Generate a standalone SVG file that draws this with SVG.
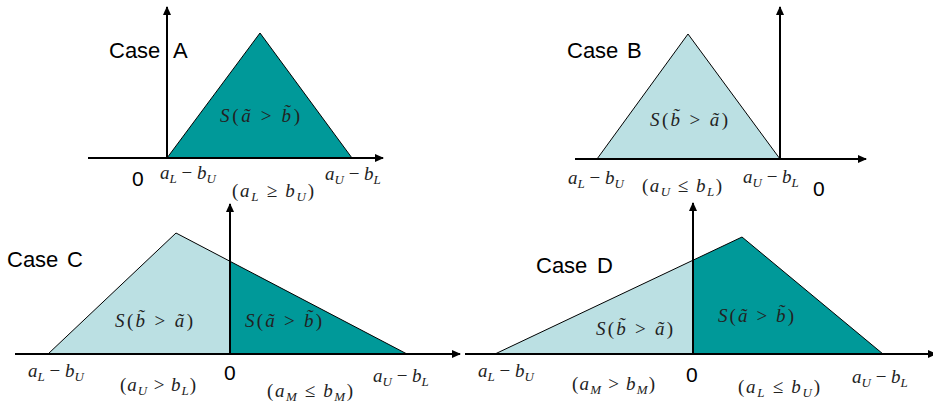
<svg xmlns="http://www.w3.org/2000/svg" width="933" height="410" viewBox="0 0 933 410">
<style>
.ax{stroke:#000;stroke-width:2;fill:none}
.ar{marker-end:url(#arr)}
.tri{stroke:#000;stroke-width:1;stroke-linejoin:miter}
.dk{fill:#009999}
.lt{fill:#BBE0E3}
.case{font-family:"Liberation Sans",Arial,sans-serif;font-size:22px;fill:#000}
.zero{font-family:"Liberation Sans",Arial,sans-serif;font-size:21px;fill:#000}
.m{font-family:"Liberation Serif","DejaVu Serif",serif;font-size:19px;font-style:italic;fill:#222}
.u{font-style:normal}
.s{font-size:13px}
</style>
<defs>
<marker id="arr" markerUnits="userSpaceOnUse" markerWidth="9" markerHeight="8" refX="8" refY="4" orient="auto">
<path d="M0,0 L9,4 L0,8 z" fill="#000"/>
</marker>
</defs>

<g id="caseA">
<polygon class="tri dk" points="167,158 260,33 352,158"/>
<line class="ax ar" x1="88" y1="158" x2="383" y2="158"/>
<line class="ax ar" x1="167" y1="158" x2="167" y2="7"/>
<text class="case" x="109" y="58">Case</text>
<text class="case" x="173" y="58">A</text>
<text class="zero" x="132" y="186">0</text>
<text class="m" x="220" y="122" textLength="80" lengthAdjust="spacing">S<tspan class="u">(</tspan>ã<tspan class="u"> &gt; </tspan>b̃<tspan class="u">)</tspan></text>
<text class="m" x="160" y="179">a<tspan class="s" dy="4">L</tspan><tspan class="u" dy="-4"> − </tspan>b<tspan class="s" dy="4">U</tspan></text>
<text class="m" x="232" y="197" textLength="82" lengthAdjust="spacing"><tspan class="u">(</tspan>a<tspan class="s" dy="4">L</tspan><tspan class="u" dy="-4"> ≥ </tspan>b<tspan class="s" dy="4">U</tspan><tspan class="u" dy="-4">)</tspan></text>
<text class="m" x="325" y="180">a<tspan class="s" dy="4">U</tspan><tspan class="u" dy="-4"> − </tspan>b<tspan class="s" dy="4">L</tspan></text>
</g>

<g id="caseB">
<polygon class="tri lt" points="597,159 688,34 780,159"/>
<line class="ax ar" x1="575" y1="159" x2="866" y2="159"/>
<line class="ax ar" x1="780" y1="159" x2="780" y2="7"/>
<text class="case" x="567" y="58">Case</text>
<text class="case" x="627" y="58">B</text>
<text class="zero" x="813" y="196">0</text>
<text class="m" x="650" y="126" textLength="78" lengthAdjust="spacing">S<tspan class="u">(</tspan>b̃<tspan class="u"> &gt; </tspan>ã<tspan class="u">)</tspan></text>
<text class="m" x="568" y="184">a<tspan class="s" dy="4">L</tspan><tspan class="u" dy="-4"> − </tspan>b<tspan class="s" dy="4">U</tspan></text>
<text class="m" x="642" y="192" textLength="80" lengthAdjust="spacing"><tspan class="u">(</tspan>a<tspan class="s" dy="4">U</tspan><tspan class="u" dy="-4"> ≤ </tspan>b<tspan class="s" dy="4">L</tspan><tspan class="u" dy="-4">)</tspan></text>
<text class="m" x="743" y="183">a<tspan class="s" dy="4">U</tspan><tspan class="u" dy="-4"> − </tspan>b<tspan class="s" dy="4">L</tspan></text>
</g>

<g id="caseC">
<polygon class="lt" points="48,354 176,233 230,261.3 230,354"/>
<polygon class="dk" points="230,261.3 407,354 230,354"/>
<polyline class="tri" fill="none" points="48,354 176,233 407,354"/>
<line class="ax ar" x1="15" y1="354" x2="460" y2="354"/>
<line class="ax ar" x1="230" y1="354" x2="230" y2="204"/>
<text class="case" x="7" y="267">Case</text>
<text class="case" x="67" y="267">C</text>
<text class="zero" x="224" y="380">0</text>
<text class="m" x="115" y="327" textLength="78" lengthAdjust="spacing">S<tspan class="u">(</tspan>b̃<tspan class="u"> &gt; </tspan>ã<tspan class="u">)</tspan></text>
<text class="m" x="245" y="327" textLength="77" lengthAdjust="spacing">S<tspan class="u">(</tspan>ã<tspan class="u"> &gt; </tspan>b̃<tspan class="u">)</tspan></text>
<text class="m" x="28" y="377">a<tspan class="s" dy="4">L</tspan><tspan class="u" dy="-4"> − </tspan>b<tspan class="s" dy="4">U</tspan></text>
<text class="m" x="120" y="391" textLength="76" lengthAdjust="spacing"><tspan class="u">(</tspan>a<tspan class="s" dy="4">U</tspan><tspan class="u" dy="-4"> &gt; </tspan>b<tspan class="s" dy="4">L</tspan><tspan class="u" dy="-4">)</tspan></text>
<text class="m" x="267" y="397" textLength="86" lengthAdjust="spacing"><tspan class="u">(</tspan>a<tspan class="s" dy="4">M</tspan><tspan class="u" dy="-4"> ≤ </tspan>b<tspan class="s" dy="4">M</tspan><tspan class="u" dy="-4">)</tspan></text>
<text class="m" x="373" y="382">a<tspan class="s" dy="4">U</tspan><tspan class="u" dy="-4"> − </tspan>b<tspan class="s" dy="4">L</tspan></text>
</g>

<g id="caseD">
<polygon class="lt" points="495,354 693,260.2 693,354"/>
<polygon class="dk" points="693,260.2 742,237 883,354 693,354"/>
<polyline class="tri" fill="none" points="495,354 742,237 883,354"/>
<line class="ax ar" x1="465" y1="354" x2="936" y2="354"/>
<line class="ax ar" x1="693" y1="354" x2="693" y2="203"/>
<text class="case" x="536" y="273">Case</text>
<text class="case" x="597" y="273">D</text>
<text class="zero" x="686" y="382">0</text>
<text class="m" x="596" y="335" textLength="77" lengthAdjust="spacing">S<tspan class="u">(</tspan>b̃<tspan class="u"> &gt; </tspan>ã<tspan class="u">)</tspan></text>
<text class="m" x="718" y="322" textLength="76" lengthAdjust="spacing">S<tspan class="u">(</tspan>ã<tspan class="u"> &gt; </tspan>b̃<tspan class="u">)</tspan></text>
<text class="m" x="478" y="377">a<tspan class="s" dy="4">L</tspan><tspan class="u" dy="-4"> − </tspan>b<tspan class="s" dy="4">U</tspan></text>
<text class="m" x="572" y="390" textLength="83" lengthAdjust="spacing"><tspan class="u">(</tspan>a<tspan class="s" dy="4">M</tspan><tspan class="u" dy="-4"> &gt; </tspan>b<tspan class="s" dy="4">M</tspan><tspan class="u" dy="-4">)</tspan></text>
<text class="m" x="738" y="393" textLength="82" lengthAdjust="spacing"><tspan class="u">(</tspan>a<tspan class="s" dy="4">L</tspan><tspan class="u" dy="-4"> ≤ </tspan>b<tspan class="s" dy="4">U</tspan><tspan class="u" dy="-4">)</tspan></text>
<text class="m" x="852" y="383">a<tspan class="s" dy="4">U</tspan><tspan class="u" dy="-4"> − </tspan>b<tspan class="s" dy="4">L</tspan></text>
</g>
</svg>
